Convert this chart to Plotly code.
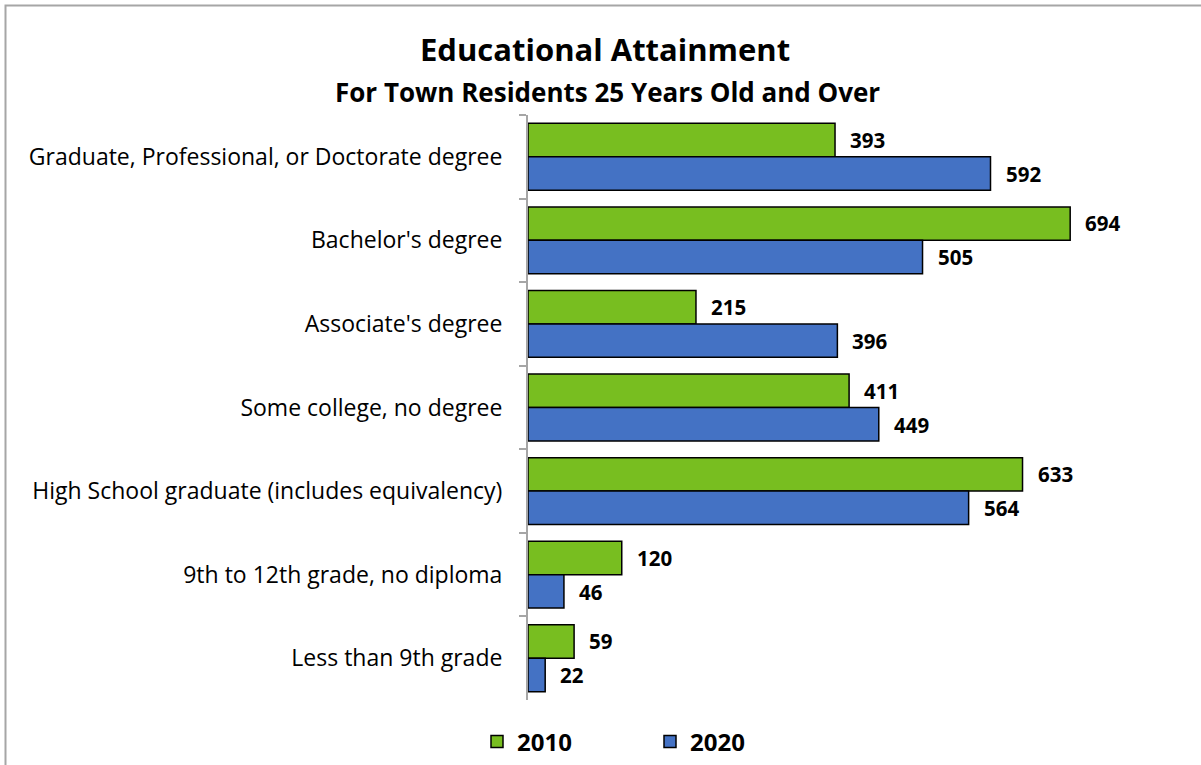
import plotly.graph_objects as go

# Educational attainment counts, town residents aged 25+
categories = [
    "Graduate, Professional, or Doctorate degree",
    "Bachelor's degree",
    "Associate's degree",
    "Some college, no degree",
    "High School graduate (includes equivalency)",
    "9th to 12th grade, no diploma",
    "Less than 9th grade",
]
values_2010 = [393, 694, 215, 411, 633, 120, 59]
values_2020 = [592, 505, 396, 449, 564, 46, 22]
series_names = ["2010", "2020"]

GREEN = "#78BE20"
BLUE = "#4472C4"
FONT = "Open Sans"

W, H = 1201, 765
ML, MR, MT, MB = 528, 48, 115, 65
PW, PH = W - ML - MR, H - MT - MB


def px_x(p):
    return (p - ML) / PW


def px_y(p):
    return (H - MB - p) / PH


fig = go.Figure()
for name, vals, col in [(series_names[0], values_2010, GREEN),
                        (series_names[1], values_2020, BLUE)]:
    fig.add_trace(go.Bar(
        name=name, x=vals, y=categories, orientation="h",
        marker=dict(color=col, line=dict(color="black", width=1.5)),
        hoverinfo="x+y",
    ))

# value labels beside each bar
annotations = []
for vals, shift in [(values_2010, 17), (values_2020, -17)]:
    for cat, v in zip(categories, vals):
        annotations.append(dict(
            x=v, y=cat, xref="x", yref="y", text=str(v), showarrow=False,
            xanchor="left", yanchor="middle", xshift=13, yshift=shift,
            font=dict(family=FONT, size=20.5, color="black", weight="bold"),
        ))

annotations.append(dict(
    x=px_x(605), y=px_y(49), xref="paper", yref="paper",
    text="<b>Educational Attainment</b>", showarrow=False,
    xanchor="center", yanchor="middle",
    font=dict(family=FONT, size=31, color="black"),
))
annotations.append(dict(
    x=px_x(607), y=px_y(92), xref="paper", yref="paper",
    text="<b>For Town Residents 25 Years Old and Over</b>", showarrow=False,
    xanchor="center", yanchor="middle",
    font=dict(family=FONT, size=26, color="black"),
))

fig.update_layout(
    width=W, height=H,
    margin=dict(l=ML, r=MR, t=MT, b=MB, autoexpand=False),
    paper_bgcolor="white", plot_bgcolor="white",
    barmode="group", bargap=0.2, bargroupgap=0,
    font=dict(family=FONT, color="black"),
    annotations=annotations,
    showlegend=True,
    legend=dict(
        orientation="h", x=px_x(477), y=px_y(742), xanchor="left", yanchor="middle",
        font=dict(family=FONT, size=24, color="black", weight="bold"),
        entrywidth=128, traceorder="normal", itemclick=False,
    ),
    shapes=[dict(
        type="rect", xref="paper", yref="paper",
        x0=px_x(5.5), y0=px_y(5.5), x1=px_x(1400), y1=px_y(1000),
        line=dict(color="#A6A6A6", width=2), layer="below",
    )],
)
fig.update_xaxes(visible=False, range=[0, 800])
fig.update_yaxes(
    autorange="reversed", showline=True, linecolor="#A6A6A6", linewidth=2,
    ticks="outside", tickson="boundaries", ticklen=7, tickcolor="#A6A6A6",
    tickwidth=2, ticklabelstandoff=19, showgrid=False,
    tickfont=dict(family=FONT, size=23, color="black"),
)

fig.write_html("out.html")
